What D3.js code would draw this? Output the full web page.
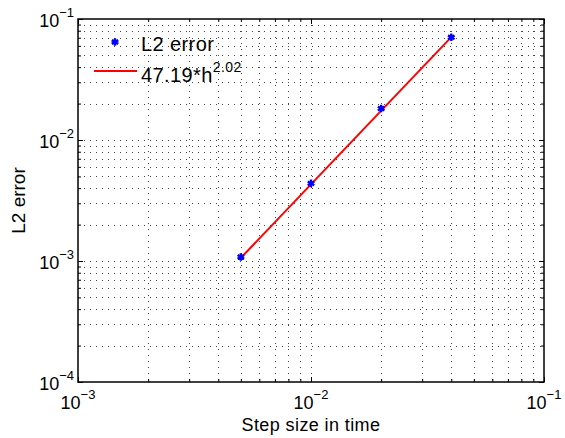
<!DOCTYPE html>
<html>
<head>
<meta charset="utf-8">
<script src="https://cdn.jsdelivr.net/npm/d3@7"></script>
<style>
  body { margin: 0; background: #fff; }
  svg { font-family: "Liberation Sans", Arial, sans-serif; }
</style>
</head>
<body>
<svg id="chart" width="565" height="438"></svg>
<script>
// Step sizes and measured L2 errors
const stepSizes = [0.005, 0.01, 0.02, 0.04];
const l2Errors = [1.08e-3, 4.38e-3, 1.82e-2, 7.06e-2];
// Fitted power law: C * h^p
const fitCoef = 47.19;
const fitExp = 2.02;
const xDomain = [1e-3, 1e-1];
const yDomain = [1e-4, 1e-1];
const xMajor = [1e-3, 1e-2, 1e-1];
const yMajor = [1e-4, 1e-3, 1e-2, 1e-1];
const legendLabels = ["L2 error", "47.19*h", "2.02"];
const xTitle = "Step size in time";
const yTitle = "L2 error";

const svg = d3.select("#chart");
const m = { left: 78, top: 19, right: 544, bottom: 382 };
const W = m.right - m.left, H = m.bottom - m.top;

const x = d3.scaleLog().domain(xDomain).range([m.left, m.right]);
const y = d3.scaleLog().domain(yDomain).range([m.bottom, m.top]);

function minorTicks(domain) {
  const out = [];
  const lo = Math.round(Math.log10(domain[0])), hi = Math.round(Math.log10(domain[1]));
  for (let e = lo; e < hi; e++) for (let k = 2; k <= 9; k++) out.push(k * Math.pow(10, e));
  return out;
}
const xMinor = minorTicks(xDomain), yMinor = minorTicks(yDomain);
const xAll = xMajor.concat(xMinor), yAll = yMajor.concat(yMinor);

// dotted grid
const grid = svg.append("g").attr("stroke", "#444").attr("stroke-width", 1)
  .attr("stroke-dasharray", "1,5");
grid.selectAll("line.gx").data(xAll.filter(v => v > xDomain[0] && v < xDomain[1])).join("line")
  .attr("x1", d => Math.round(x(d)) + 0.5).attr("x2", d => Math.round(x(d)) + 0.5)
  .attr("y1", m.top).attr("y2", m.bottom);
grid.selectAll("line.gy").data(yAll.filter(v => v > yDomain[0] && v < yDomain[1])).join("line")
  .attr("y1", d => Math.round(y(d)) + 0.5).attr("y2", d => Math.round(y(d)) + 0.5)
  .attr("x1", m.left).attr("x2", m.right);

// axes with inward ticks on all four sides
function drawAxis(axisGen, transform) {
  const g = svg.append("g").attr("transform", transform).call(axisGen);
  g.selectAll("text").remove();
  g.select(".domain").remove();
  g.selectAll("line").attr("stroke", "#000").attr("stroke-width", 1);
  return g;
}
const majLen = 5, minLen = 3;
drawAxis(d3.axisBottom(x).tickValues(xMajor).tickSizeInner(-majLen).tickSizeOuter(0), `translate(0,${m.bottom})`);
drawAxis(d3.axisBottom(x).tickValues(xMinor).tickSizeInner(-minLen).tickSizeOuter(0), `translate(0,${m.bottom})`);
drawAxis(d3.axisTop(x).tickValues(xMajor).tickSizeInner(-majLen).tickSizeOuter(0), `translate(0,${m.top})`);
drawAxis(d3.axisTop(x).tickValues(xMinor).tickSizeInner(-minLen).tickSizeOuter(0), `translate(0,${m.top})`);
drawAxis(d3.axisLeft(y).tickValues(yMajor).tickSizeInner(-majLen).tickSizeOuter(0), `translate(${m.left},0)`);
drawAxis(d3.axisLeft(y).tickValues(yMinor).tickSizeInner(-minLen).tickSizeOuter(0), `translate(${m.left},0)`);
drawAxis(d3.axisRight(y).tickValues(yMajor).tickSizeInner(-majLen).tickSizeOuter(0), `translate(${m.right},0)`);
drawAxis(d3.axisRight(y).tickValues(yMinor).tickSizeInner(-minLen).tickSizeOuter(0), `translate(${m.right},0)`);

// frame
svg.append("rect").attr("x", m.left).attr("y", m.top).attr("width", W).attr("height", H)
  .attr("fill", "none").attr("stroke", "#000").attr("stroke-width", 1.5);

// tick labels as 10^e
function powLabel(g, v, px, py, anchor) {
  const e = Math.round(Math.log10(v));
  const t = g.append("text").attr("x", px).attr("y", py).attr("text-anchor", anchor)
    .attr("font-size", 18).attr("fill", "#000");
  t.append("tspan").text("10");
  t.append("tspan").attr("dy", -10).attr("font-size", 13).text("\u2212" + Math.abs(e));
}
const labels = svg.append("g");
xMajor.forEach(v => powLabel(labels, v, x(v), m.bottom + 27, "middle"));
yMajor.forEach(v => powLabel(labels, v, m.left - 4, y(v) + 8, "end"));

// axis titles
svg.append("text").attr("x", x(1e-2)).attr("y", 431).attr("text-anchor", "middle")
  .attr("font-size", 18).attr("letter-spacing", 0.4).text(xTitle);
svg.append("text").attr("transform", `translate(25,${(m.top + m.bottom) / 2}) rotate(-90)`)
  .attr("text-anchor", "middle").attr("font-size", 19).text(yTitle);

// fitted line
const fitLine = d3.line().x(d => x(d)).y(d => y(fitCoef * Math.pow(d, fitExp)));
svg.append("path").datum([stepSizes[0], stepSizes[stepSizes.length - 1]])
  .attr("d", fitLine).attr("fill", "none").attr("stroke", "#f00").attr("stroke-width", 2);

// error markers
const star = d3.symbol().type(d3.symbolAsterisk).size(40);
svg.append("g").selectAll("path").data(stepSizes).join("path")
  .attr("transform", (d, i) => `translate(${x(d)},${y(l2Errors[i])})`)
  .attr("d", star).attr("fill", "none").attr("stroke", "#00f").attr("stroke-width", 2.4);

// legend
const lg = svg.append("g");
lg.append("path").attr("transform", "translate(115,42)").attr("d", star)
  .attr("fill", "none").attr("stroke", "#00f").attr("stroke-width", 2.4);
lg.append("text").attr("x", 141).attr("y", 51).attr("font-size", 20)
  .attr("letter-spacing", 0.4).text(legendLabels[0]);
lg.append("line").attr("x1", 94).attr("x2", 137).attr("y1", 71).attr("y2", 71)
  .attr("stroke", "#f00").attr("stroke-width", 2);
const lt = lg.append("text").attr("x", 141).attr("y", 82).attr("font-size", 20)
  .attr("letter-spacing", 0.4);
lt.append("tspan").text(legendLabels[1]);
lt.append("tspan").attr("dy", -10).attr("font-size", 14).text(legendLabels[2]);
</script>
</body>
</html>
